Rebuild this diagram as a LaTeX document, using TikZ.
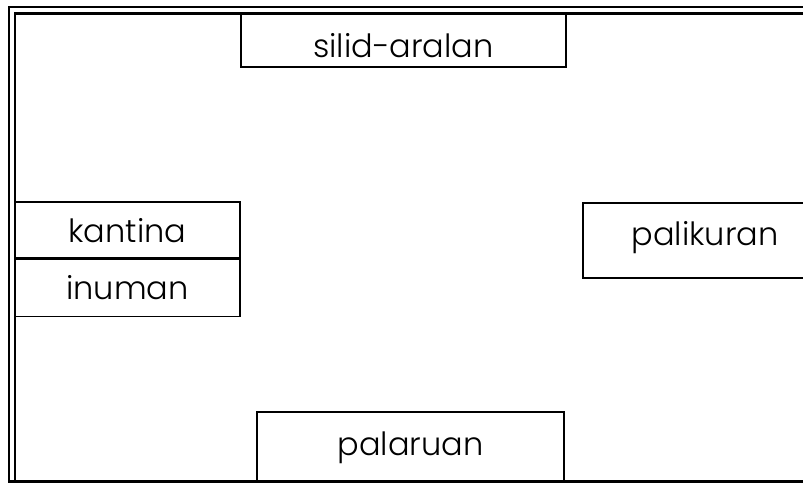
\documentclass[tikz,border=0pt]{standalone}
\usepackage{fontspec}
\setmainfont{Poppins}[UprightFont=* Light]
\usepackage{tikz}
\usetikzlibrary{positioning,calc}

\tikzset{
    room/.style={draw,rectangle,line width=1.3pt,inner sep=0pt,text depth=0pt,font=\fontsize{32}{36}\selectfont},
    baseoff/.style={text height=#1},
    wall/.style={line width=2.2pt}
}

\begin{document}
\begin{tikzpicture}[x=1pt,y=-1pt]
    \useasboundingbox (0,0) rectangle (803,483);
    
    % Outer walls (double line)
    \draw[wall] (803,7) -- (9,7) -- (9,483);
    \draw[wall] (803,13.5) -- (15,13.5) -- (15,483);
    \draw[line width=3pt] (9,481) -- (803,481);
    
    % Rooms
    \node[room,baseoff=34pt,minimum width=325pt,minimum height=54pt] (silid) at (403.5,40) {silid-aralan};
    
    \node[room,baseoff=24pt,minimum width=225pt,minimum height=56pt] (kantina) at (127.5,230) {kantina};
    \node[room,baseoff=23pt,minimum width=225pt,minimum height=57pt,below=0pt of kantina] (inuman) {inuman};
    
    \node[room,baseoff=9pt,minimum width=244pt,minimum height=75pt] (palikuran) at (705,240.5) {palikuran};
    
    \node[room,baseoff=17pt,minimum width=307pt,minimum height=69pt] (palaruan) at (410.5,446.5) {palaruan};
\end{tikzpicture}
\end{document}
